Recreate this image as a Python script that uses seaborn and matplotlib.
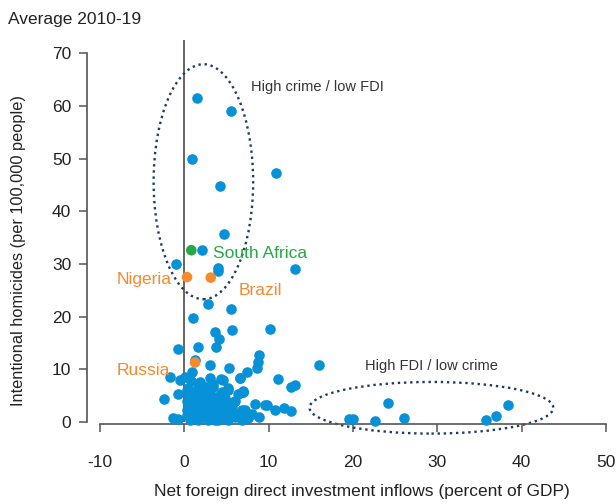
import matplotlib
matplotlib.use("Agg")
import matplotlib.pyplot as plt
from matplotlib.patches import Ellipse
import pandas as pd
import seaborn as sns

# Net FDI inflows (% of GDP) and intentional homicides (per 100,000), 2010-19 averages
fdi = [
    1.54, 5.58, 0.91, 10.9, 4.2, 4.7,
    2.06, -0.99, 4.04, 3.96, 13.1,
    2.77, 5.54, 1.07, 3.64, 4.12, 3.8, 5.62, 10.2,
    -0.8, 1.58, 1.23, 3.05, 5.35, 8.8, 8.7, 8.6, 15.95,
    7.4, 6.65, 11.1, 13.1, 12.7, -1.66, -0.7, -2.4, -1.3, -0.8,
    10.8, 11.8, 12.6, 9.8, 8.4, 6.9,
    19.5, 19.95, 22.6, 24.2, 26.1, 35.8, 36.9, 38.4,
    0.08, 0.87, 1.86, 0.48, 2.46, 3.44, 4.6, 5.2, 4.2, 6.4, 7.0,
    9.6, 7.6, 6.0, 4.8, 3.6, 2.5, 1.3, 0.5, 0.3, 2.5, 3.2, 1.07, 1.86,
    4.0, 5.0, 5.6, 6.8, 3.6, -0.5, 0.8, 3.05, 4.4, 6.6,
    0.87, 2.85, 5.2, 7.0, 3.8, 6.0,
    0.67, 1.46, 2.06, 2.85, 3.64, 4.43, 4.83, 5.62, 6.41, 7.2, 8.0, 8.8,
    7.6, 6.8, 5.2, 4.0, 2.85, 1.66, 0.67, 2.06, 1.27, 3.24, 2.46,
    0.27, 0.27, 1.07, 3.24, 2.46, 1.66, 4.0, 4.83, 4.43, 1.66, 0.27, 3.44,
    1.0, 2.0, 3.0, 4.0, 1.5, 3.0, 0.5, 2.3, 3.7, 5.3, 4.5, 1.2, 5.8,
]
homicides = [
    61.5, 59.0, 50.0, 47.2, 44.8, 35.7,
    32.6, 29.9, 29.3, 28.6, 29.0,
    22.3, 21.5, 19.7, 17.1, 15.7, 14.2, 17.5, 17.6,
    13.9, 14.2, 11.8, 10.9, 10.3, 12.7, 11.4, 10.2, 10.8,
    9.4, 8.3, 8.2, 7.0, 6.7, 8.6, 5.4, 4.3, 0.7, 0.5,
    2.3, 2.6, 2.0, 3.2, 3.5, 5.7,
    0.6, 0.6, 0.2, 3.6, 0.8, 0.4, 1.2, 3.2,
    8.6, 9.5, 7.6, 6.4, 6.7, 7.3, 8.0, 6.1, 5.1, 5.4, 5.7,
    3.2, 1.3, 1.0, 1.7, 1.3, 1.0, 1.0, 1.3, 2.3, 2.9, 4.2, 4.8, 3.9,
    3.2, 3.2, 2.9, 2.3, 0.4, 8.0, 7.8, 8.3, 8.2, 8.3,
    5.7, 6.1, 6.4, 5.9, 4.5, 3.9,
    2.6, 3.2, 2.0, 2.9, 2.3, 2.6, 1.3, 2.0, 1.6, 2.3, 1.6, 1.0,
    0.7, 0.4, 0.4, 0.4, 0.4, 0.4, 0.4, 4.5, 4.2, 3.9, 5.1,
    3.9, 1.3, 1.6, 1.3, 1.0, 2.6, 3.5, 4.5, 5.7, 6.4, 6.1, 6.7,
    3.0, 1.5, 2.0, 1.8, 5.0, 5.5, 4.8, 3.7, 3.0, 1.3, 0.8, 2.2, 3.8,
]

# Highlighted economies
hl_names = ["South Africa", "Nigeria", "Brazil", "Russia"]
hl_fdi = [0.83, 0.32, 3.13, 1.27]
hl_hom = [32.6, 27.5, 27.4, 11.3]
hl_colors = ["#27A844", "#F58A2E", "#F58A2E", "#F58A2E"]
# label anchor positions (data units)
hl_label_x = [3.4, -8.0, 6.4, -8.0]
hl_label_y = [31.1, 26.1, 24.1, 9.0]

BLUE = "#0791D6"
NAVY = "#1E3C5C"
AXIS = "#555555"

sns.set_theme(style="white")
plt.rcParams["font.family"] = ["Liberation Sans", "DejaVu Sans"]
plt.rcParams["axes.unicode_minus"] = False

fig = plt.figure(figsize=(6.16, 5.04), dpi=100)
ax = fig.add_axes([0.1623, 0.1627, 0.8215, 0.758])

df = pd.DataFrame({"fdi": fdi, "hom": homicides})
sns.scatterplot(data=df, x="fdi", y="hom", color=BLUE, s=58, linewidth=0,
                ax=ax, zorder=3, clip_on=False)

hl = pd.DataFrame({"fdi": hl_fdi, "hom": hl_hom, "name": hl_names})
sns.scatterplot(data=hl, x="fdi", y="hom", hue="name", palette=hl_colors,
                s=58, linewidth=0, ax=ax, zorder=4, legend=False)
for name, lx, ly, c in zip(hl_names, hl_label_x, hl_label_y, hl_colors):
    ax.text(lx, ly, name, color=c, fontsize=12.5, ha="left", va="baseline", zorder=5)

# Vertical reference line at zero FDI
ax.axvline(0, color="#3a3a3a", lw=1.1, zorder=2)

# Dotted ellipses marking the two groups
ax.add_patch(Ellipse((2.26, 45.6), 11.8, 44.6, fill=False, ls=(0, (1, 1.6)),
                     lw=1.7, ec=NAVY, zorder=2, clip_on=False))
ax.add_patch(Ellipse((29.3, 2.7), 28.9, 9.8, fill=False, ls=(0, (1, 1.6)),
                     lw=1.7, ec=NAVY, zorder=2, clip_on=False))
ax.text(7.9, 62.8, "High crime / low FDI", fontsize=10.5, color="#333333",
        ha="left", va="baseline")
ax.text(21.4, 9.9, "High FDI / low crime", fontsize=10.5, color="#333333",
        ha="left", va="baseline")

ax.set_xlim(-10, 50)
ax.set_ylim(0, 72.5)
ax.set_xticks(range(-10, 51, 10))
ax.set_yticks(range(0, 71, 10))

for side in ("top", "right"):
    ax.spines[side].set_visible(False)
ax.spines["left"].set_position(("outward", 9.6))
ax.spines["left"].set_bounds(0, 70)
ax.spines["bottom"].set_position(("outward", 1.5))
ax.spines["bottom"].set_bounds(-10, 50)
for side in ("left", "bottom"):
    ax.spines[side].set_color(AXIS)
    ax.spines[side].set_linewidth(1.2)

ax.tick_params(axis="y", direction="out", length=6, width=1.1, color=AXIS,
               pad=5, labelsize=12.5, labelcolor="#222222", left=True)
ax.tick_params(axis="x", direction="out", length=5.5, width=1.1, color=AXIS,
               pad=17, labelsize=12.5, labelcolor="#222222", bottom=True)

ax.set_xlabel("Net foreign direct investment inflows (percent of GDP)",
              fontsize=12.5, color="#222222")
ax.xaxis.set_label_coords(0.518, -0.162)
ax.set_ylabel("Intentional homicides (per 100,000 people)",
              fontsize=11.8, color="#222222")
ax.yaxis.set_label_coords(-0.146, 0.448)

fig.text(0.013, 0.962, "Average 2010-19", fontsize=12.5, color="#222222",
         ha="left", va="center")

fig.savefig("out.png", dpi=100)
